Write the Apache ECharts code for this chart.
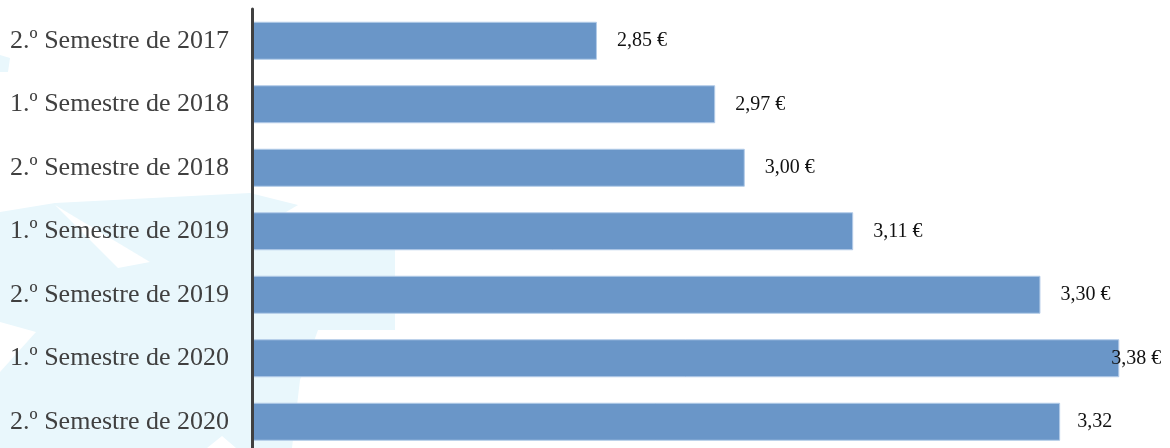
<!DOCTYPE html>
<html>
<head>
<meta charset="utf-8">
<script src="https://cdn.jsdelivr.net/npm/echarts@6/dist/echarts.min.js"></script>
<style>
  html, body { margin: 0; padding: 0; background: #fff; }
  #chart { width: 1170px; height: 448px; }
</style>
</head>
<body>
<div id="chart"></div>
<script>
// Preço médio por semestre
const semestres = [
    '2.º Semestre de 2017',
    '1.º Semestre de 2018',
    '2.º Semestre de 2018',
    '1.º Semestre de 2019',
    '2.º Semestre de 2019',
    '1.º Semestre de 2020',
    '2.º Semestre de 2020'
];
const precos = [2.85, 2.97, 3.00, 3.11, 3.30, 3.38, 3.32];
const etiquetas = ['2,85 €', '2,97 €', '3,00 €', '3,11 €', '3,30 €', '3,38 €', '3,32'];

const chart = echarts.init(document.getElementById('chart'));

// label nudges as in the original picture
const labelOffsets = { 5: [-28, 0], 6: [-3, 0] };

const seriesData = precos.map((v, i) => ({
    value: v,
    label: { formatter: etiquetas[i], offset: labelOffsets[i] || [0, 0] }
}));

// faint background watermark shapes
const wm = '#e9f7fc';
const watermark = [
    [[0, 212], [55, 203], [250, 193], [298, 205], [262, 226], [395, 232], [395, 330], [318, 330], [300, 380], [292, 448], [0, 448]],
    [[0, 55], [10, 58], [8, 72], [0, 72]]
].map(points => ({
    type: 'polygon',
    z: -10,
    silent: true,
    shape: { points: points },
    style: { fill: wm }
}));
const holes = [
    [[0, 322], [36, 332], [0, 372]],
    [[55, 205], [150, 262], [118, 268]],
    [[207, 448], [222, 436], [236, 448]]
].map(points => ({
    type: 'polygon',
    z: -9,
    silent: true,
    shape: { points: points },
    style: { fill: '#ffffff' }
}));

chart.setOption({
    animation: false,
    backgroundColor: '#ffffff',
    graphic: watermark.concat(holes),
    grid: {
        left: 252, top: 9, width: 887, height: 444.5,
        containLabel: false,
        outerBoundsMode: 'none'
    },
    xAxis: {
        type: 'value',
        min: 2.5,
        max: 3.4,
        show: false,
        splitLine: { show: false }
    },
    yAxis: {
        type: 'category',
        data: semestres,
        inverse: true,
        z: 5,
        axisLine: { show: true, lineStyle: { color: '#404040', width: 3 } },
        axisTick: { show: false },
        axisLabel: {
            margin: 23,
            color: '#404040',
            fontFamily: 'Liberation Serif',
            fontSize: 26
        }
    },
    series: [{
        type: 'bar',
        data: seriesData,
        barWidth: 38,
        itemStyle: { color: '#6a96c8', borderColor: '#b3cbe8', borderWidth: 1 },
        label: {
            show: true,
            position: 'right',
            distance: 20,
            color: '#111111',
            fontFamily: 'Liberation Serif',
            fontSize: 20
        }
    }]
});
</script>
</body>
</html>
